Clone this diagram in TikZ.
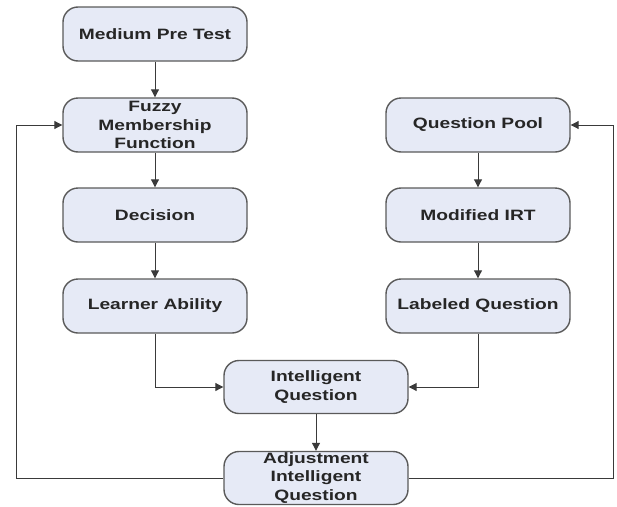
\documentclass[tikz,border=0pt]{standalone}
\usepackage{fontspec}
\setmainfont{Liberation Sans}
\usetikzlibrary{arrows.meta}
\definecolor{boxfill}{HTML}{E6EAF6}
\definecolor{boxline}{HTML}{5A5A5A}
\definecolor{wire}{HTML}{3A3A3A}
% horizontally widened bold label line
\newcommand{\wl}[1]{\scalebox{1.28}[1]{#1}}
\tikzset{
  stage/.style={draw=boxline, line width=1.4pt, fill=boxfill,
    rounded corners=15pt, minimum width=184pt, minimum height=54pt,
    inner sep=0pt, align=center,
    font=\fontsize{15pt}{18.5pt}\selectfont\bfseries, text=black!85},
  flow/.style={draw=wire, line width=1pt,
    -{Triangle[length=8pt,width=8pt]}},
  loop/.style={draw=wire, line width=1pt}
}
\begin{document}
\begin{tikzpicture}[x=1pt,y=-1pt]
\useasboundingbox (0,0) rectangle (617,506);
% left column
\node[stage] (pre)   at (155,34)  {\wl{Medium Pre Test}};
\node[stage] (fuzzy) at (155,125) {\wl{Fuzzy}\\\wl{Membership}\\\wl{Function}};
\node[stage] (dec)   at (155,215) {\wl{Decision}};
\node[stage] (abil)  at (155,306) {\wl{Learner Ability}};
% right column
\node[stage] (pool)  at (478,125) {\wl{Question Pool}};
\node[stage] (irt)   at (478,215) {\wl{Modified IRT}};
\node[stage] (lab)   at (478,306) {\wl{Labeled Question}};
% centre column
\node[stage, minimum height=53pt] (iq)  at (316,387) {\wl{Intelligent}\\\wl{Question}};
\node[stage, minimum height=53pt] (adj) at (316,478) {\wl{Adjustment}\\\wl{Intelligent}\\\wl{Question}};
% feedback turning points
\coordinate (lb) at (16,478);
\coordinate (rb) at (613,478);
% straight arrows
\draw[flow] (pre) -- (fuzzy);
\draw[flow] (fuzzy) -- (dec);
\draw[flow] (dec) -- (abil);
\draw[flow] (pool) -- (irt);
\draw[flow] (irt) -- (lab);
\draw[flow] (iq) -- (adj);
% elbows into the intelligent question
\draw[flow] (abil.south) |- (iq.west);
\draw[flow] (lab.south) |- (iq.east);
% feedback loops
\draw[flow] (adj.west) -- (lb) |- (fuzzy.west);
\draw[flow] (adj.east) -- (rb) |- (pool.east);
\end{tikzpicture}
\end{document}
